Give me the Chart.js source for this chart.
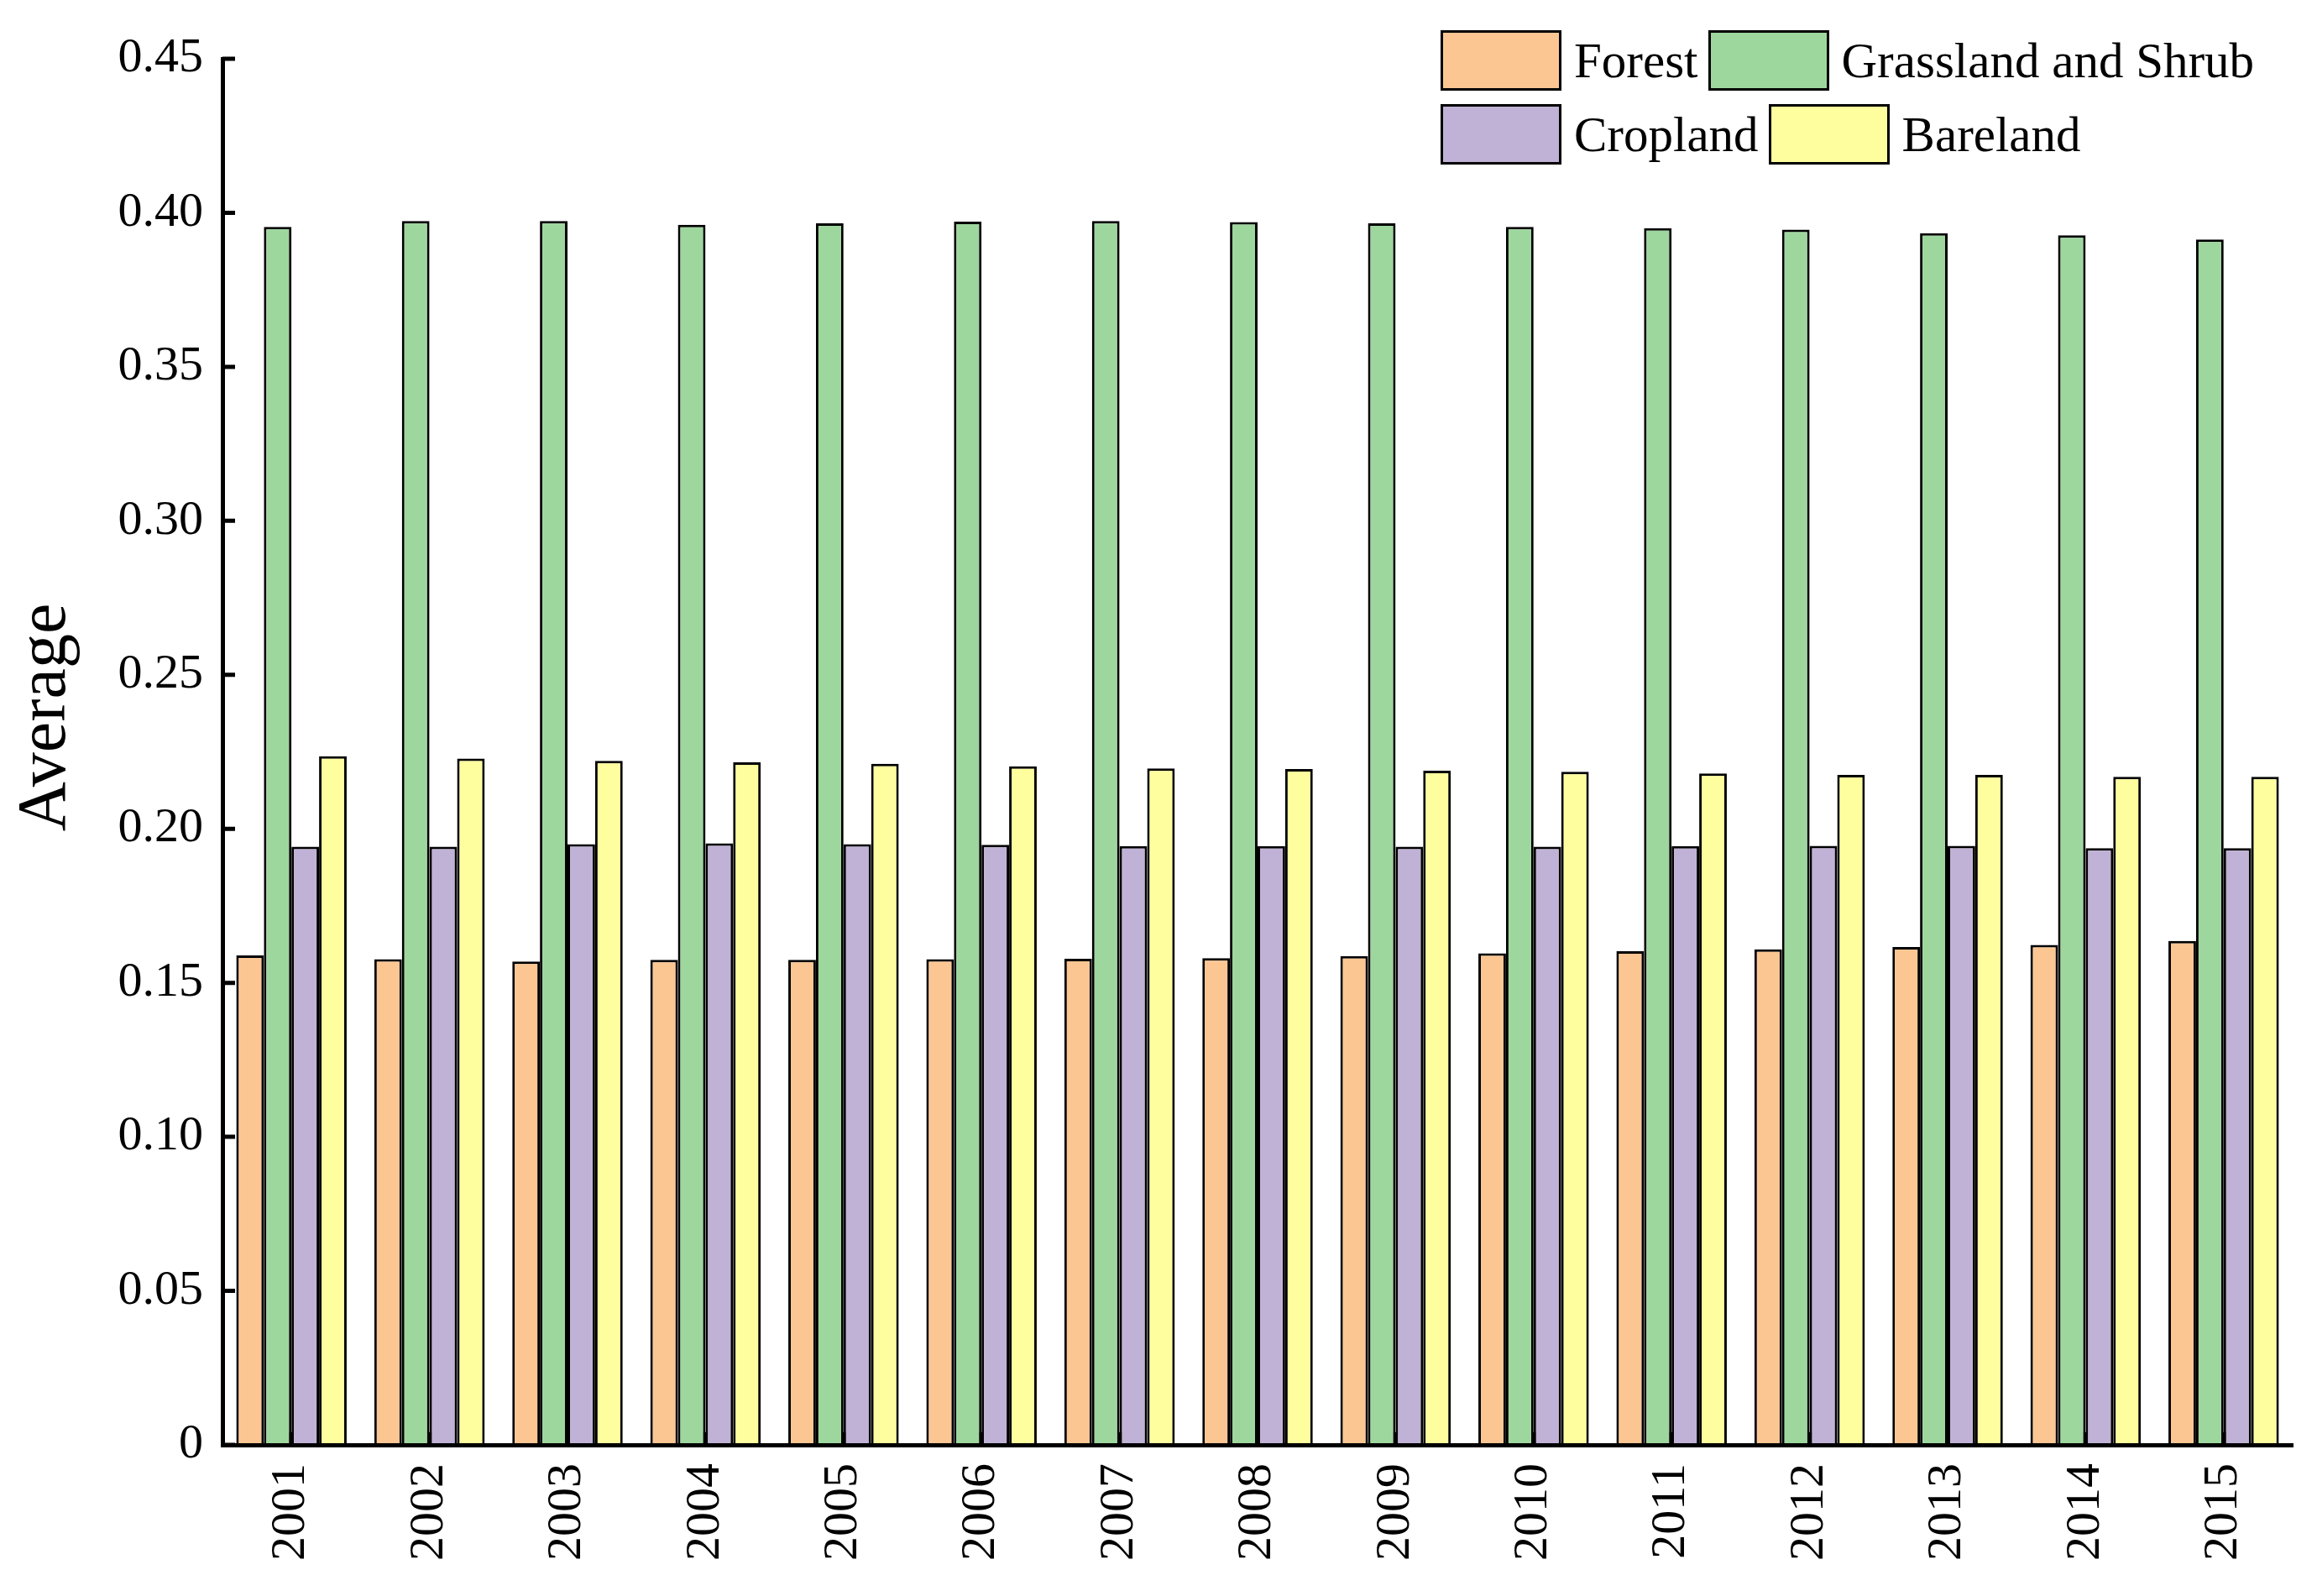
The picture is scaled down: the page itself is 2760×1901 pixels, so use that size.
<!DOCTYPE html>
<html>
<head>
<meta charset="utf-8">
<script src="https://cdn.jsdelivr.net/npm/chart.js@4.4.1/dist/chart.umd.min.js"></script>
<style>
  body { margin: 0; background: #fff; }
  #wrap { position: relative; width: 2760px; height: 1901px; }
  #legend { position: absolute; left: 1716px; top: 36px; font-family: "Liberation Serif", serif; font-size: 59px; color: #000; }
  .row { display: flex; align-items: center; height: 72px; margin-bottom: 16px; }
  .box { width: 144px; height: 72px; box-sizing: border-box; border: 3px solid #000; }
  .lbl { margin-left: 15px; margin-right: 12px; line-height: 72px; white-space: nowrap; }
</style>
</head>
<body>
<div id="wrap">
  <canvas id="myChart"></canvas>
  <div id="legend"></div>
</div>
<script>
// data
const years = ["2001", "2002", "2003", "2004", "2005", "2006", "2007", "2008",
  "2009", "2010", "2011", "2012", "2013", "2014", "2015"];
const forest = [0.1589, 0.1577, 0.1569, 0.1575, 0.1575, 0.1577, 0.1578, 0.1580,
  0.1587, 0.1596, 0.1603, 0.1609, 0.1616, 0.1623, 0.1636];
const grassland = [0.3954, 0.3973, 0.3973, 0.3961, 0.3966, 0.3971, 0.3973, 0.3970,
  0.3966, 0.3954, 0.3950, 0.3945, 0.3934, 0.3927, 0.3913];
const cropland = [0.1942, 0.1942, 0.1950, 0.1953, 0.1950, 0.1948, 0.1944, 0.1944,
  0.1942, 0.1942, 0.1944, 0.1945, 0.1945, 0.1937, 0.1937];
const bareland = [0.2236, 0.2228, 0.2221, 0.2216, 0.2211, 0.2203, 0.2196, 0.2194,
  0.2189, 0.2185, 0.2180, 0.2175, 0.2175, 0.2169, 0.2169];
const yTicks = [0, 0.05, 0.10, 0.15, 0.20, 0.25, 0.30, 0.35, 0.40, 0.45];
const yTickLabels = ["0", "0.05", "0.10", "0.15", "0.20", "0.25", "0.30", "0.35", "0.40", "0.45"];

const series = [
  { name: "Forest", values: forest, color: "rgb(252,198,146)" },
  { name: "Grassland and Shrub", values: grassland, color: "rgb(158,215,158)" },
  { name: "Cropland", values: cropland, color: "rgb(192,178,214)" },
  { name: "Bareland", values: bareland, color: "rgb(254,254,158)" },
];

const FONT = "Liberation Serif";

// tick marks pointing into the plot
const innerTicks = {
  id: "innerTicks",
  afterDraw(chart) {
    const ctx = chart.ctx;
    const x = chart.scales.x;
    const y = chart.scales.y;
    const len = 15;
    ctx.save();
    ctx.strokeStyle = "#000";
    ctx.lineWidth = 5;
    ctx.beginPath();
    y.ticks.forEach((t) => {
      const py = y.getPixelForValue(t.value);
      ctx.moveTo(y.right, py);
      ctx.lineTo(y.right + len, py);
    });
    x.ticks.forEach((t, i) => {
      const px = x.getPixelForTick(i);
      ctx.moveTo(px, x.top);
      ctx.lineTo(px, x.top - len);
    });
    ctx.stroke();
    ctx.restore();
  },
};

const ctx = document.getElementById("myChart");
ctx.width = 2760;
ctx.height = 1901;

new Chart(ctx, {
  type: "bar",
  data: {
    labels: years,
    datasets: series.map((s) => ({
      label: s.name,
      data: s.values,
      backgroundColor: s.color,
      borderColor: "#000",
      borderWidth: 3,
      categoryPercentage: 0.8,
      barPercentage: 1.0,
    })),
  },
  options: {
    responsive: false,
    animation: false,
    layout: { padding: { left: 0, right: 29, top: 70, bottom: 0 } },
    plugins: {
      legend: { display: false },
      tooltip: { enabled: false },
    },
    scales: {
      x: {
        grid: { display: false, drawTicks: false },
        border: { display: true, color: "#000", width: 5, z: 1 },
        ticks: {
          color: "#000",
          font: { family: FONT, size: 58 },
          minRotation: 90,
          maxRotation: 90,
          padding: 22,
        },
        afterFit(scale) { scale.height = 180; },
      },
      y: {
        min: 0,
        max: 0.45,
        grid: { display: false, drawTicks: false },
        border: { display: true, color: "#000", width: 5, z: 1 },
        afterBuildTicks(scale) {
          scale.ticks = yTicks.map((v) => ({ value: v }));
        },
        ticks: {
          color: "#000",
          font: { family: FONT, size: 58 },
          padding: 23,
          callback: (value) => yTickLabels[yTicks.indexOf(value)] ?? "",
        },
        title: {
          display: true,
          // leading spaces nudge the title up like the original
          text: "\u00a0\u00a0\u00a0\u00a0Average",
          color: "#000",
          font: { family: FONT, size: 82 },
          padding: { top: 6, bottom: 0 },
        },
        afterFit(scale) { scale.width = 265; },
      },
    },
  },
  plugins: [innerTicks],
});

// legend: two rows like the figure
const legend = document.getElementById("legend");
[[series[0], series[1]], [series[2], series[3]]].forEach((pair) => {
  const row = document.createElement("div");
  row.className = "row";
  pair.forEach((s) => {
    const box = document.createElement("div");
    box.className = "box";
    box.style.background = s.color;
    const lbl = document.createElement("span");
    lbl.className = "lbl";
    lbl.textContent = s.name;
    row.appendChild(box);
    row.appendChild(lbl);
  });
  legend.appendChild(row);
});
</script>
</body>
</html>
